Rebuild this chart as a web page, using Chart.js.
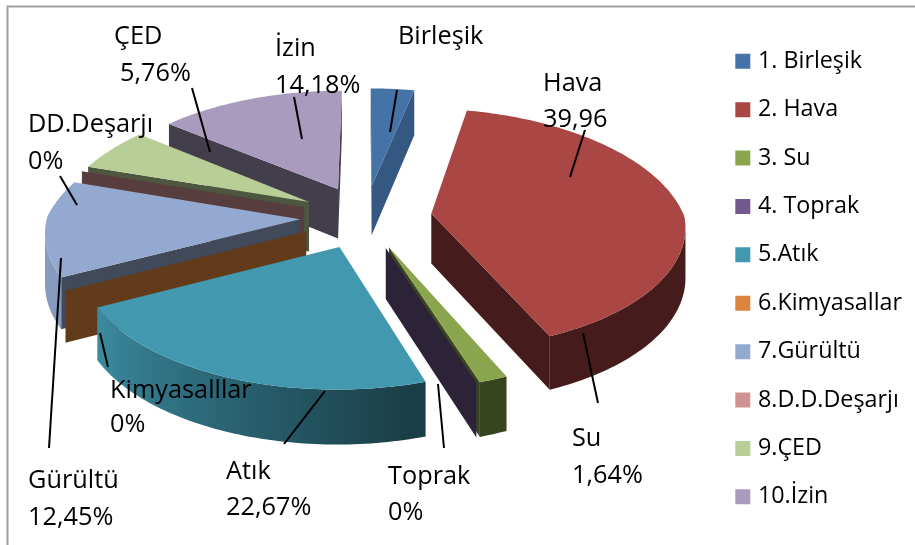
<!DOCTYPE html>
<html><head><meta charset="utf-8">
<style>html,body{margin:0;padding:0;background:#fff;overflow:hidden}canvas{display:block}</style>
<script src="https://cdn.jsdelivr.net/npm/chart.js@4"></script>
</head><body><canvas id="c" width="915" height="545"></canvas>
<script>
const categories = ['1. Birleşik','2. Hava','3. Su','4. Toprak','5.Atık','6.Kimyasallar','7.Gürültü','8.D.D.Deşarjı','9.ÇED','10.İzin'];
const values = [3.34,39.96,1.64,0,22.67,0,12.45,0,5.76,14.18];
const colors = ['#4572A7','#AA4643','#89A54E','#71588F','#4198AF','#DB843D','#93A9CF','#D19392','#B9CD96','#A99BBD'];
const sideShade = [0.78,0.41,0.42,0.40,0.42,0.45,0.44,0.42,0.42,0.40];
const explode = [66,67,65,65,65,65,65,65,65,65];
const labelNames = ['Birleşik','Hava','Su','Toprak','Atık','Kimyasalllar','Gürültü','DD.Deşarjı','ÇED','İzin'];
const labelValues = ['','39,96','1,64%','0%','22,67%','0%','12,45%','0%','5,76%','14,18%'];
const labelPos = [[398,37],[543,84],[572,439],[388,477],[226,472],[110,391],[28,481],[28,125],[114,37],[275,49]];
const labelPos2 = [null,[543,120],[572,476],[388,513],[226,508],[110,425],[28,518],[28,162],[120,74],[275,86]];
const leaders = [[397,90,390,132],[585,130,570,177],[583,333,598,403],[438,384,444,448],[325,391,284,444],[100,333,108,367],[61,258,49,448],[60,176,77,205],[192,88,210,152],[294,97,302,139]];
const VIEW = {cx:365, cy:217, R:253, squash:0.49, kFront:0.09, kBack:0.17, depth:50};

function project(u,v,z){
  const t = v/VIEW.R;
  const s = 1/(1 - (t>0?VIEW.kFront:VIEW.kBack)*t);
  return [VIEW.cx + u*s, VIEW.cy + VIEW.squash*v*s + z*(1+0.08*t)];
}
function shade(hex,f){
  const n = parseInt(hex.slice(1),16);
  return `rgb(${(n>>16&255)*f|0},${(n>>8&255)*f|0},${(n&255)*f|0})`;
}
function outerShade(deg){ // deg clockwise from 12 o'clock
  if (deg<=165) return 0.41;
  return Math.min(0.92, 0.41 + 0.51*(deg-165)/78);
}
function quad(ctx,a,b,c,d,col){
  ctx.fillStyle = col;
  ctx.beginPath(); ctx.moveTo(a[0],a[1]); ctx.lineTo(b[0],b[1]); ctx.lineTo(c[0],c[1]); ctx.lineTo(d[0],d[1]); ctx.closePath(); ctx.fill();
}
const pie3d = {
  id:'pie3d',
  beforeDraw(chart){
    const ctx = chart.ctx;
    ctx.save(); ctx.fillStyle='#fff'; ctx.fillRect(0,0,915,545);
    ctx.strokeStyle='#a0a0a0'; ctx.lineWidth=2;
    ctx.beginPath(); ctx.moveTo(7.5,545); ctx.lineTo(7.5,6.5); ctx.lineTo(915,6.5); ctx.stroke();
    ctx.restore();
  },
  beforeDatasetDraw(chart,args){
    const ctx = chart.ctx, meta = args.meta, R = VIEW.R, h = VIEW.depth;
    const items = meta.data.map((el,i)=>{
      const mid = (el.startAngle+el.endAngle)/2;
      return {el,i,mid,key:Math.sin(mid)};
    }).sort((a,b)=>a.key-b.key);
    ctx.save();
    for (const it of items){
      const {el,i,mid} = it;
      const off = el.options.offset;
      const ou = Math.cos(mid)*off, ov = Math.sin(mid)*off;
      const P = (a,r,z)=>project(ou+Math.cos(a)*r, ov+Math.sin(a)*r, z);
      const a0 = el.startAngle, a1 = el.endAngle;
      const base = colors[i];
      const side = shade(base, sideShade[i]);
      const t0=P(a0,0,0), s0=P(a0,R,0), e0=P(a1,R,0);
      if (s0[0]-t0[0] < 0) quad(ctx,t0,s0,P(a0,R,h),P(a0,0,h),side);
      if (t0[0]-e0[0] < 0) quad(ctx,e0,t0,P(a0,0,h),P(a1,R,h),side);
      const n = Math.max(1,Math.ceil((a1-a0)/0.02));
      if (a1>a0){
        // visible part of the rim, filled as one polygon with a horizontal gradient
        const run=[];
        for (let k=0;k<=n;k++){
          const b=a0+(a1-a0)*k/n;
          const p=P(b,R,0), q=k<n?P(a0+(a1-a0)*(k+1)/n,R,0):null, pr=k>0?P(a0+(a1-a0)*(k-1)/n,R,0):null;
          if ((q&&q[0]<p[0])||(pr&&p[0]<pr[0])) run.push(b);
        }
        if (run.length>1){
          const xs=run.map(b=>P(b,R,0)[0]);
          const x0=Math.min(...xs), x1=Math.max(...xs);
          const g=ctx.createLinearGradient(x0,0,x1,0);
          run.forEach((b,k)=>{
            const deg=(b+Math.PI/2)*180/Math.PI;
            g.addColorStop(Math.min(1,Math.max(0,(xs[k]-x0)/(x1-x0))),shade(base,outerShade(deg)));
          });
          ctx.fillStyle=g;
          ctx.beginPath();
          run.forEach((b,k)=>{const p=P(b,R,0); k?ctx.lineTo(p[0],p[1]):ctx.moveTo(p[0],p[1]);});
          run.slice().reverse().forEach(b=>{const p=P(b,R,h); ctx.lineTo(p[0],p[1]);});
          ctx.closePath(); ctx.fill();
        }
        ctx.fillStyle = base;
        ctx.beginPath(); ctx.moveTo(t0[0],t0[1]);
        for (let k=0;k<=n;k++){ const p=P(a0+(a1-a0)*k/n,R,0); ctx.lineTo(p[0],p[1]); }
        ctx.closePath(); ctx.fill();
      }
    }
    ctx.restore();
    return false;
  },
  afterDraw(chart){
    const ctx = chart.ctx;
    ctx.save();
    ctx.strokeStyle='#000'; ctx.lineWidth=2;
    leaders.forEach(l=>{ctx.beginPath();ctx.moveTo(l[0],l[1]);ctx.lineTo(l[2],l[3]);ctx.stroke();});
    ctx.fillStyle='#000'; ctx.font='25.3px "Open Sans"'; ctx.textBaseline='middle'; ctx.textAlign='left';
    labelNames.forEach((t,i)=>{
      ctx.fillText(t,labelPos[i][0],labelPos[i][1]);
      if (labelPos2[i]) ctx.fillText(labelValues[i],labelPos2[i][0],labelPos2[i][1]);
    });
    ctx.restore();
  }
};
new Chart(document.getElementById('c'),{
  type:'pie',
  data:{labels:categories,datasets:[{data:values,backgroundColor:colors,offset:explode,borderWidth:0}]},
  options:{
    responsive:false,animation:false,rotation:0,
    layout:{padding:{top:24.5,bottom:0,right:3}},
    plugins:{
      tooltip:{enabled:false},
      legend:{position:'right',align:'start',
        labels:{color:'#000',font:{family:'"Open Sans"',size:23.3},boxWidth:7,boxHeight:15,usePointStyle:true,pointStyle:'rect',padding:25.1}}
    }
  },
  plugins:[pie3d]
});
</script></body></html>
